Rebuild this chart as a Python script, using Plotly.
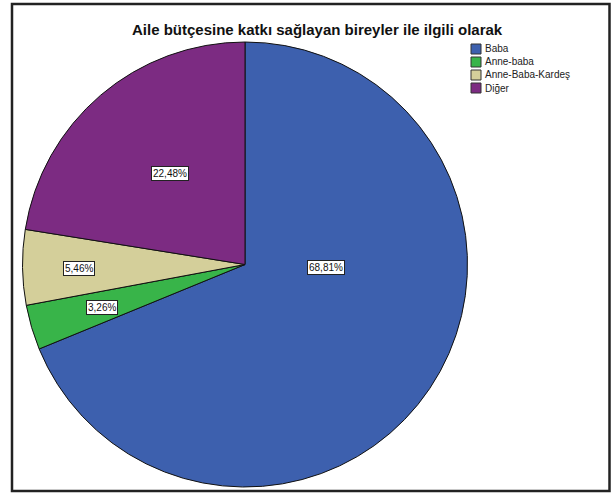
import plotly.graph_objects as go

title = "Aile bütçesine katkı sağlayan bireyler ile ilgili olarak"
categories = ["Baba", "Anne-baba", "Anne-Baba-Kardeş", "Diğer"]
percentages = [68.81, 3.26, 5.46, 22.48]
colors = ["#3D60AE", "#38B449", "#D4CF9A", "#7C2B82"]

# --- layout / style constants (pixels in the 611x493 canvas) ---
W, H = 611, 493
FONT = "Liberation Sans, Arial, sans-serif"
label_px = [(326, 267), (102, 307), (79, 268), (170, 173)]  # slice label box centres
legend_x, legend_y0, legend_step, swatch = 471, 49, 13, 10


def px(x, y):
    return x / W, 1 - y / H


fig = go.Figure()
fig.add_trace(go.Pie(
    labels=categories,
    values=percentages,
    marker=dict(colors=colors, line=dict(color="#111111", width=1)),
    sort=False,
    direction="clockwise",
    rotation=0,
    textinfo="none",
    hoverinfo="label+percent",
    showlegend=False,
    domain=dict(x=[22 / W, 468 / W], y=[1 - 487 / H, 1 - 42 / H]),
))

annotations = []
for v, (x, y) in zip(percentages, label_px):
    ax, ay = px(x, y)
    annotations.append(dict(
        x=ax, y=ay, xref="paper", yref="paper", showarrow=False,
        xanchor="center", yanchor="middle",
        text=f"{v:.2f}%".replace(".", ","),
        font=dict(family=FONT, size=10, color="#111111"),
        bgcolor="white", bordercolor="#222222", borderwidth=1, borderpad=1,
    ))

tx, ty = px(317, 29)
annotations.append(dict(
    x=tx, y=ty, xref="paper", yref="paper", showarrow=False,
    xanchor="center", yanchor="middle",
    text=f"<b>{title}</b>", font=dict(family=FONT, size=15, color="#111111"),
))

shapes = [dict(type="rect", xref="paper", yref="paper",
               x0=12 / W, x1=609.5 / W, y0=1 - 491 / H, y1=1 - 4 / H,
               line=dict(color="#222222", width=2.5))]

for i, (cat, col) in enumerate(zip(categories, colors)):
    cy = legend_y0 + i * legend_step
    x0, y0 = px(legend_x, cy - swatch / 2)
    x1, y1 = px(legend_x + swatch, cy + swatch / 2)
    shapes.append(dict(type="rect", xref="paper", yref="paper",
                       x0=x0, x1=x1, y0=y1, y1=y0,
                       fillcolor=col, line=dict(color="#333333", width=1)))
    lx, ly = px(legend_x + swatch + 2, cy)
    annotations.append(dict(
        x=lx, y=ly, xref="paper", yref="paper", showarrow=False,
        xanchor="left", yanchor="middle", text=cat,
        font=dict(family=FONT, size=10, color="#222222"),
    ))

fig.update_layout(
    width=W, height=H,
    margin=dict(l=0, r=0, t=0, b=0),
    paper_bgcolor="white",
    plot_bgcolor="white",
    showlegend=False,
    annotations=annotations,
    shapes=shapes,
)

fig.write_html(
    "out.html",
    config={"displayModeBar": False},
    post_script="document.body.style.margin='0';document.body.style.overflow='hidden';",
)
